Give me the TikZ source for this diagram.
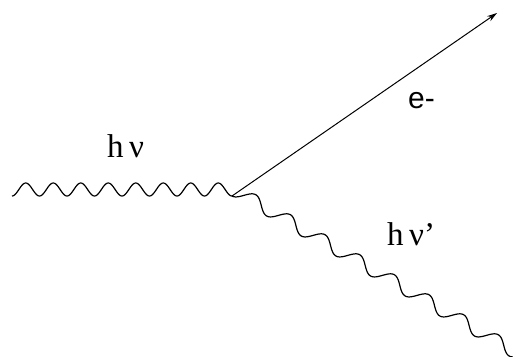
\documentclass[tikz,border=0pt]{standalone}
\usepackage{fontspec}
\setmainfont{Liberation Serif}
\newfontfamily\elfont{Liberation Sans}
\usetikzlibrary{arrows.meta}

\tikzset{
  photon/.style={line width=1.2pt,line join=round},
  electron/.style={line width=1pt,-{Stealth[length=10pt,width=6pt]}},
  lbl/.style={anchor=base west,inner sep=0pt,font=\fontsize{33}{36}\selectfont}
}

\begin{document}
\begin{tikzpicture}[x=1pt,y=-1pt]
\useasboundingbox (0,0) rectangle (513,356);
\clip (0,0) rectangle (513,356);
% vertex and free ends
\coordinate (gin) at (12,196);
\coordinate (vtx) at (232,196);
\coordinate (eout) at (497,13);
% incoming photon, trough to trough
\draw[photon,shift={(gin)}] plot[domain=0:2880,samples=241,smooth]
  ({\x/360*27.5},{-6.5+6.5*cos(\x)});
% outgoing electron
\draw[electron] (vtx) -- (eout);
% outgoing photon, along -30 deg, leaves the vertex at a trough
\draw[photon,shift={(vtx)},rotate=-30] plot[domain=-90:3150,samples=330,smooth]
  ({10+\x/360*40},{-6.5-6.5*sin(\x)});
% labels
\node[lbl] (lblgin) at (107,157) {h\,ν};
\node[lbl,font=\elfont\fontsize{30}{36}\selectfont] (lble) at (408,108) {e-};
\node[lbl] (lblgout) at (387,245) {h\,ν’};
\end{tikzpicture}
\end{document}
